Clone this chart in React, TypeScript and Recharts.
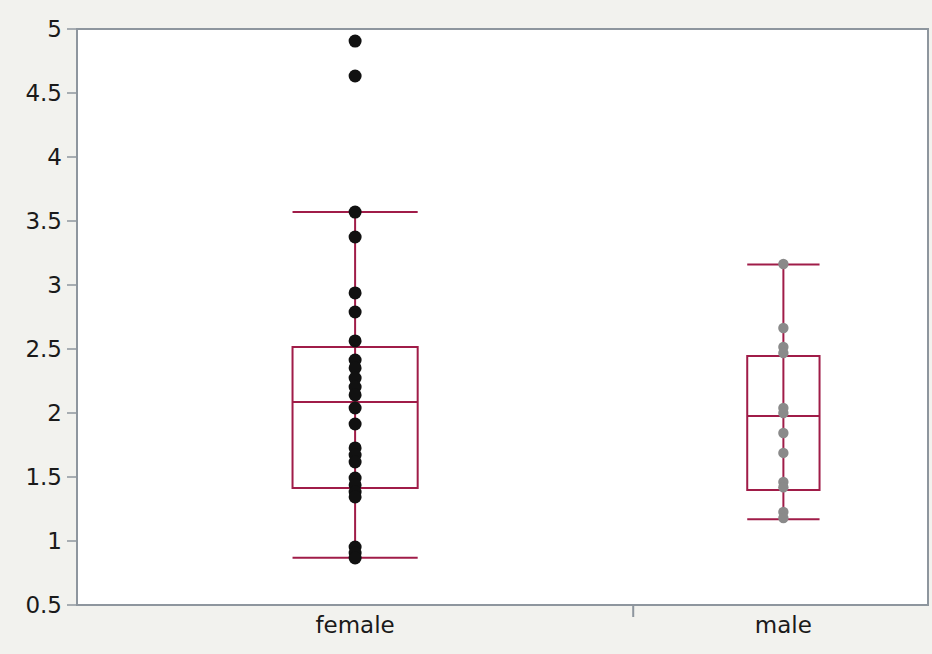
import React from "react";
import {
  ComposedChart,
  Scatter,
  XAxis,
  YAxis,
  ReferenceArea,
  ReferenceLine,
} from "recharts";

// ---- data ----
const categories = ["female", "male"];
const categoryCenters = [1, 2.54];
const categoryDivider = 2;

const femaleValues = [
  4.906, 4.633, 3.57, 3.375, 2.938, 2.789, 2.563, 2.414, 2.352, 2.273, 2.203,
  2.141, 2.039, 1.914, 1.727, 1.672, 1.617, 1.492, 1.438, 1.383, 1.344, 0.953,
  0.906, 0.867,
];
const maleValues = [
  3.164, 2.664, 2.516, 2.469, 2.039, 2.0, 1.844, 1.688, 1.461, 1.42, 1.227, 1.18,
];

const whiskerLow = [0.87, 1.17];
const quartile1 = [1.414, 1.398];
const medians = [2.086, 1.977];
const quartile3 = [2.516, 2.445];
const whiskerHigh = [3.57, 3.16];

const yTicks = [0.5, 1, 1.5, 2, 2.5, 3, 3.5, 4, 4.5, 5];

// ---- styles ----
const BOX_COLOR = "#a01c48";
const BORDER = "#8e969e";
const BG = "#f2f2ee";
const FONT = "'DejaVu Sans', sans-serif";
const halfWidths = [0.225, 0.13];
const dotColors = ["#111111", "#8a8a8a"];
const dotRadius = [6.5, 5.2];

const femaleData = femaleValues.map((v) => ({ x: categoryCenters[0], y: v }));
const maleData = maleValues.map((v) => ({ x: categoryCenters[1], y: v }));

const XTick = (props: any) => {
  const { x, y, payload } = props;
  const v = payload.value;
  if (v === categoryDivider) {
    return <line x1={x} x2={x} y1={y - 8} y2={y + 4} stroke={BORDER} strokeWidth={2} />;
  }
  const idx = categoryCenters.indexOf(v);
  return (
    <text
      x={x}
      y={y + 20}
      textAnchor="middle"
      fontSize={23}
      fontFamily={FONT}
      fill="#1a1a1a"
    >
      {categories[idx]}
    </text>
  );
};

export default function App() {
  const boxes = categories.map((_, i) => {
    const c = categoryCenters[i];
    const hw = halfWidths[i];
    return (
      <React.Fragment key={i}>
        <ReferenceLine
          segment={[
            { x: c, y: whiskerLow[i] },
            { x: c, y: whiskerHigh[i] },
          ]}
          stroke={BOX_COLOR}
          strokeWidth={2}
        />
        <ReferenceArea
          x1={c - hw}
          x2={c + hw}
          y1={quartile1[i]}
          y2={quartile3[i]}
          fill="#ffffff"
          fillOpacity={0}
          stroke={BOX_COLOR}
          strokeWidth={2}
        />
        <ReferenceLine
          segment={[
            { x: c - hw, y: medians[i] },
            { x: c + hw, y: medians[i] },
          ]}
          stroke={BOX_COLOR}
          strokeWidth={2}
        />
        <ReferenceLine
          segment={[
            { x: c - hw, y: whiskerLow[i] },
            { x: c + hw, y: whiskerLow[i] },
          ]}
          stroke={BOX_COLOR}
          strokeWidth={2}
        />
        <ReferenceLine
          segment={[
            { x: c - hw, y: whiskerHigh[i] },
            { x: c + hw, y: whiskerHigh[i] },
          ]}
          stroke={BOX_COLOR}
          strokeWidth={2}
        />
      </React.Fragment>
    );
  });

  return (
    <div style={{ position: "absolute", left: 0, top: 0, width: 932, height: 654, background: BG }}>
      <ComposedChart
        width={932}
        height={654}
        margin={{ top: 29, right: 4, bottom: 0, left: 0 }}
      >
        <XAxis
          type="number"
          dataKey="x"
          domain={[0, 3.06]}
          ticks={[categoryCenters[0], categoryDivider, categoryCenters[1]]}
          tick={<XTick />}
          tickLine={false}
          axisLine={{ stroke: BORDER, strokeWidth: 2 }}
          height={49}
          allowDataOverflow
          interval={0}
        />
        <YAxis
          type="number"
          dataKey="y"
          domain={[0.5, 5]}
          ticks={yTicks}
          width={77}
          tickSize={10}
          tickMargin={5}
          tickLine={{ stroke: BORDER, strokeWidth: 1.5 }}
          axisLine={{ stroke: BORDER, strokeWidth: 2 }}
          tick={{ fontSize: 23, fontFamily: FONT, fill: "#1a1a1a" }}
          interval={0}
          allowDataOverflow
        />
        <ReferenceArea
          x1={0}
          x2={3.06}
          y1={0.5}
          y2={5}
          fill="#ffffff"
          fillOpacity={1}
          stroke={BORDER}
          strokeWidth={2}
        />
        {boxes}
        <Scatter
          data={femaleData}
          fill={dotColors[0]}
          isAnimationActive={false}
          shape={(p: any) => <circle cx={p.cx} cy={p.cy} r={dotRadius[0]} fill={dotColors[0]} />}
        />
        <Scatter
          data={maleData}
          fill={dotColors[1]}
          isAnimationActive={false}
          shape={(p: any) => <circle cx={p.cx} cy={p.cy} r={dotRadius[1]} fill={dotColors[1]} />}
        />
      </ComposedChart>
    </div>
  );
}
